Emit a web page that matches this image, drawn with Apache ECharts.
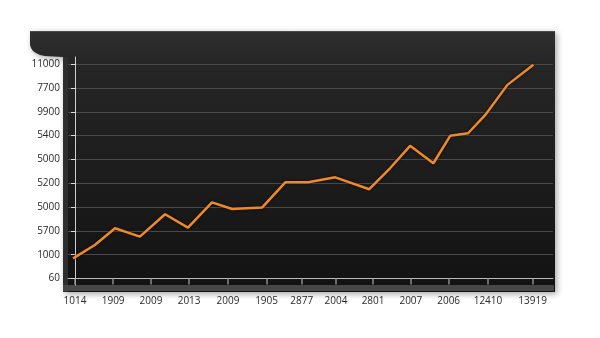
<!DOCTYPE html>
<html>
<head>
<meta charset="utf-8">
<title>Trend</title>
<script src="https://cdn.jsdelivr.net/npm/echarts@6.0.0/dist/echarts.min.js"></script>
<style>
  html, body { margin: 0; padding: 0; background: #ffffff; }
  #chart { width: 600px; height: 338px; }
</style>
</head>
<body>
<div id="chart"></div>
<script>
// Tick labels along the bottom axis and where they sit on the period scale
const xTickLabels = ['1014', '1909', '2009', '2013', '2009', '1905', '2877', '2004', '2801', '2007', '2006', '12410', '13919'];
const xTickPos = [0, 1.0, 1.99, 2.99, 4.01, 5.02, 5.94, 6.84, 7.81, 8.8, 9.79, 10.82, 11.99];

// Tick labels up the left axis, bottom to top (one per level)
const yTickLabels = ['60', '1000', '5700', '5000', '5200', '5000', '5400', '9900', '7700', '11000'];
const yTickPos = [0, 1, 2, 3, 4, 5, 6, 7, 8, 9];

// Series: period position and level
const seriesX = [-0.05, 0.52, 1.05, 1.70, 2.36, 2.96, 3.59, 4.12, 4.90, 5.51, 6.11, 6.82, 7.71, 8.26, 8.78, 9.39, 9.83, 10.30, 10.75, 11.33, 12.01];
const seriesY = [0.85, 1.41, 2.11, 1.76, 2.70, 2.14, 3.20, 2.92, 2.98, 4.04, 4.04, 4.25, 3.75, 4.64, 5.57, 4.84, 5.99, 6.10, 6.87, 8.13, 8.97];

const lineData = seriesX.map((x, i) => [x, seriesY[i]]);

const chart = echarts.init(document.getElementById('chart'), null, { renderer: 'canvas' });

const labelFont = { fontFamily: 'Open Sans', fontSize: 10, color: '#2a2a2a' };

chart.setOption({
  backgroundColor: '#ffffff',
  animation: false,
  graphic: [
    // dark panel with the rounded notch at the upper left
    {
      type: 'polygon',
      z: -10,
      shape: {
        points: [[30, 31], [555, 31], [555, 292], [63, 292], [63, 57], [45, 56], [40, 55], [36, 53], [33, 51], [31, 48], [30, 45]]
      },
      style: {
        fill: new echarts.graphic.LinearGradient(0, 0, 0, 1, [
          { offset: 0, color: '#2f2f2f' },
          { offset: 0.12, color: '#262626' },
          { offset: 1, color: '#121212' }
        ]),
        shadowBlur: 6,
        shadowOffsetX: 2,
        shadowOffsetY: 2,
        shadowColor: 'rgba(0,0,0,0.35)'
      }
    },
    // light rim along the top edge
    {
      type: 'line', z: -9,
      shape: { x1: 30, y1: 31.5, x2: 555, y2: 31.5 },
      style: { stroke: '#4a4a4a', lineWidth: 1 }
    },
    // strip to the left of the value axis
    {
      type: 'rect', z: -9,
      shape: { x: 63, y: 57, width: 5, height: 235 },
      style: { fill: '#2e2e2e' }
    },
    // band under the period axis
    {
      type: 'rect', z: -9,
      shape: { x: 63, y: 285, width: 491, height: 6 },
      style: { fill: '#474747' }
    }
  ],
  grid: {
    left: 68,
    right: 47,
    top: 57,
    bottom: 53,
    containLabel: false
  },
  xAxis: {
    type: 'value',
    min: -0.183,
    max: 12.524,
    axisLine: { show: true, lineStyle: { color: '#bdbdbd', width: 1 } },
    axisTick: {
      show: true,
      customValues: xTickPos,
      length: 6,
      lineStyle: { color: '#8a8a8a', width: 1.5 }
    },
    axisLabel: {
      customValues: xTickPos,
      margin: 11,
      ...labelFont,
      formatter: (v) => {
        const i = xTickPos.findIndex(p => Math.abs(p - v) < 1e-6);
        return i >= 0 ? xTickLabels[i] : '';
      }
    },
    splitLine: { show: false }
  },
  yAxis: {
    type: 'value',
    min: -0.27,
    max: 9.3,
    axisLine: { show: true, lineStyle: { color: '#cfcfcf', width: 1 } },
    axisTick: {
      show: true,
      customValues: yTickPos,
      length: 4,
      lineStyle: { color: '#dddddd', width: 1 }
    },
    axisLabel: {
      customValues: yTickPos,
      margin: 8,
      ...labelFont,
      formatter: (v) => {
        const i = yTickPos.findIndex(p => Math.abs(p - v) < 1e-6);
        return i >= 0 ? yTickLabels[i] : '';
      }
    },
    splitLine: {
      show: true,
      lineStyle: { color: '#4a4a4a', width: 1 }
    }
  },
  series: [
    {
      type: 'line',
      data: lineData,
      showSymbol: false,
      symbol: 'none',
      smooth: false,
      lineStyle: {
        color: '#f08a28',
        width: 2.5,
        shadowColor: 'rgba(0,0,0,0.7)',
        shadowBlur: 3
      },
      z: 5
    }
  ]
});
</script>
</body>
</html>
